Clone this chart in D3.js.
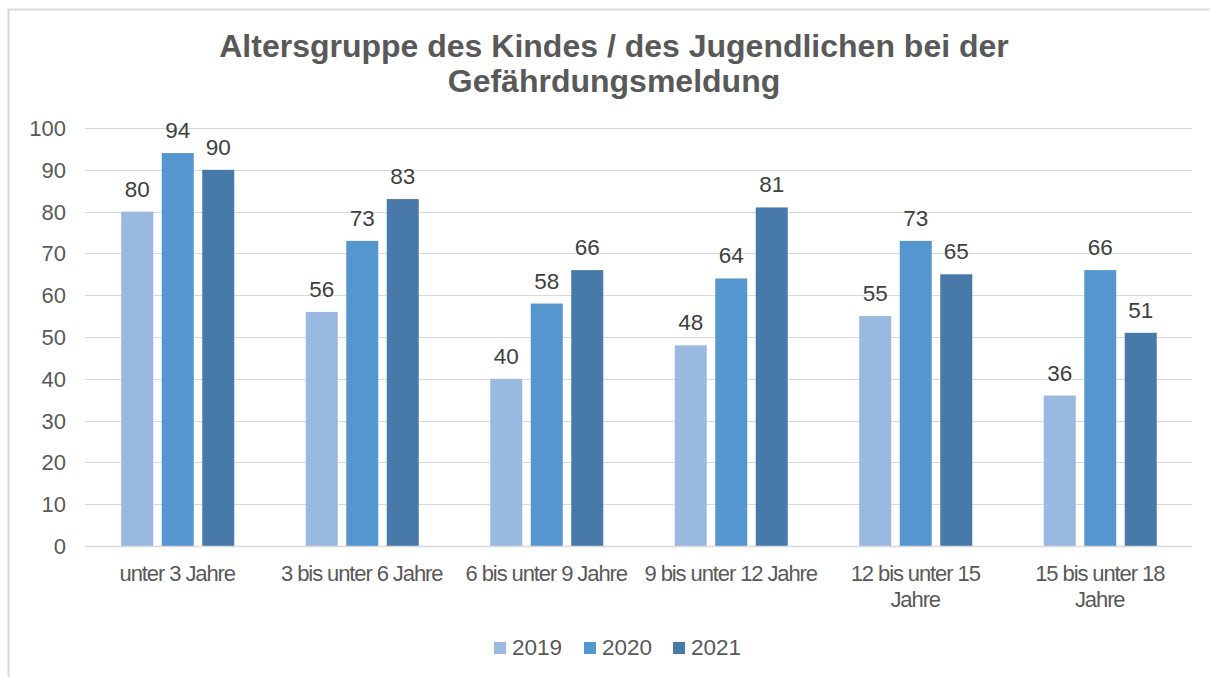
<!DOCTYPE html>
<html><head><meta charset="utf-8">
<script src="https://cdn.jsdelivr.net/npm/d3@7"></script>
<style>body{margin:0;background:#fff;}svg{display:block;}</style>
</head><body>
<svg id="c" width="1210" height="677"></svg>
<script>
const categories = [["unter 3 Jahre"],["3 bis unter 6 Jahre"],["6 bis unter 9 Jahre"],["9 bis unter 12 Jahre"],["12 bis unter 15","Jahre"],["15 bis unter 18","Jahre"]];
const seriesNames = ["2019","2020","2021"];
const v2019 = [80,56,40,48,55,36];
const v2020 = [94,73,58,64,73,66];
const v2021 = [90,83,66,81,65,51];
const yTicks = [0,10,20,30,40,50,60,70,80,90,100];
const colors = ["#9ab9e1","#5596cf","#477aa9"];
const titleLines = ["Altersgruppe des Kindes / des Jugendlichen bei der","Gefährdungsmeldung"];

(function(){
const series = [v2019,v2020,v2021];
const svg = d3.select("#c");
const font = "'Liberation Sans', Arial, sans-serif";

// frame
svg.append("path").attr("d","M8.5,677 L8.5,9.5 L1210,9.5").attr("fill","none").attr("stroke","#d9d9d9").attr("stroke-width",2);

const pl=85, pr=1192, pt=128, pb=546;
const x = d3.scaleBand().domain(d3.range(categories.length)).range([pl,pr]);
const y = d3.scaleLinear().domain([0,100]).range([pb,pt]);

// title
svg.append("text").attr("text-anchor","middle").attr("font-family",font).attr("font-weight","bold").attr("font-size",32).attr("fill","#595959")
  .selectAll("tspan").data(titleLines).join("tspan").attr("x",614).attr("y",(d,i)=>57+i*35).text(d=>d);

// gridlines
svg.append("g").selectAll("line").data(yTicks.filter(t=>t>0)).join("line")
  .attr("x1",pl).attr("x2",pr).attr("y1",d=>Math.round(y(d))+0.5).attr("y2",d=>Math.round(y(d))+0.5)
  .attr("stroke","#d9d9d9").attr("stroke-width",1);

// y tick labels
svg.append("g").selectAll("text").data(yTicks).join("text")
  .attr("x",66).attr("y",d=>y(d)+8).attr("text-anchor","end").attr("font-family",font).attr("font-size",22).attr("fill","#595959").text(d=>d);

// bars
const barW = 32, gap = 8.5;
const groupW = 3*barW + 2*gap;
series.forEach((vals,si)=>{
  const g = svg.append("g");
  g.selectAll("rect").data(vals).join("rect")
    .attr("x",(d,i)=>x(i)+x.bandwidth()/2-groupW/2+si*(barW+gap)+0.5)
    .attr("y",d=>y(d)).attr("width",barW).attr("height",d=>pb-y(d))
    .attr("fill",colors[si]);
  g.selectAll("text").data(vals).join("text")
    .attr("x",(d,i)=>x(i)+x.bandwidth()/2-groupW/2+si*(barW+gap)+barW/2+0.5)
    .attr("y",d=>y(d)-15).attr("text-anchor","middle").attr("font-family",font).attr("font-size",22.5).attr("fill","#404040").text(d=>d);
});

// x axis line
svg.append("line").attr("x1",pl).attr("x2",pr).attr("y1",pb+0.5).attr("y2",pb+0.5).attr("stroke","#d9d9d9").attr("stroke-width",1.5);

// category labels
const cl = svg.append("g").selectAll("text").data(categories).join("text")
  .attr("text-anchor","middle").attr("font-family",font).attr("font-size",22).attr("fill","#595959")
  .attr("letter-spacing","-1.1");
cl.each(function(lines,i){
  d3.select(this).selectAll("tspan").data(lines).join("tspan")
    .attr("x",x(i)+x.bandwidth()/2).attr("y",(d,j)=>581+j*26).text(d=>d);
});

// legend
const legX = [494,584,673];
const lg = svg.append("g").selectAll("g").data(seriesNames).join("g");
lg.append("rect").attr("x",(d,i)=>legX[i]).attr("y",642).attr("width",12).attr("height",12).attr("fill",(d,i)=>colors[i]);
lg.append("text").attr("x",(d,i)=>legX[i]+18).attr("y",655).attr("font-family",font).attr("font-size",22.5).attr("fill","#595959").text(d=>d);
})();
</script>
</body></html>
